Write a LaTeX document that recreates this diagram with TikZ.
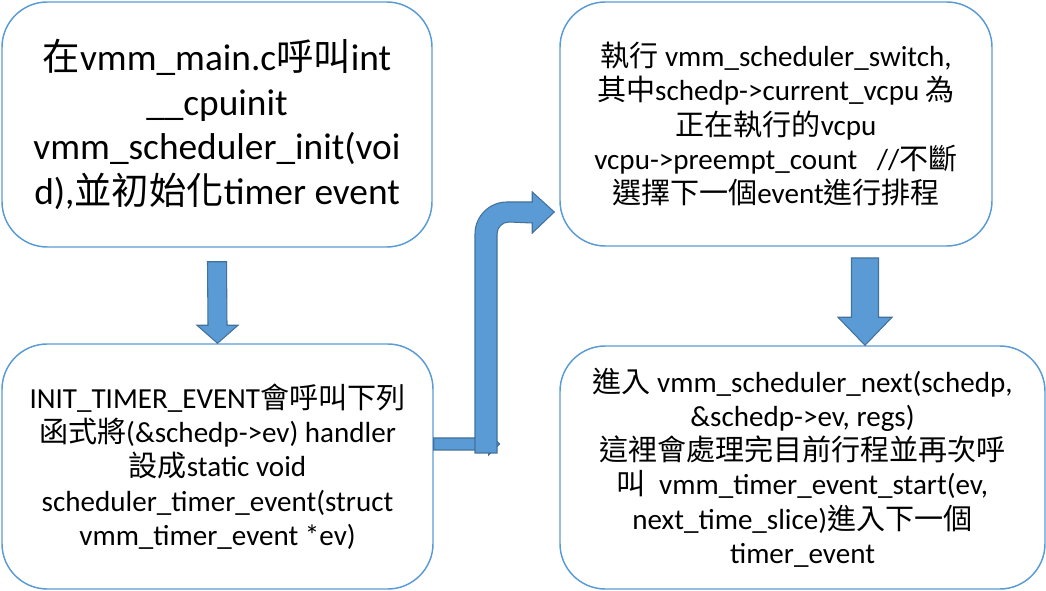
\documentclass[tikz,border=0pt]{standalone}
\usepackage{fontspec}
\setmainfont{Carlito}
\newfontfamily\cjk{Noto Sans CJK TC}
\usepackage{tikz}
\usetikzlibrary{calc}
\definecolor{boxblue}{HTML}{5B9BD5}
\definecolor{edgeblue}{HTML}{41719C}
\newcommand{\zh}[1]{{\cjk #1}}

\begin{document}
\begin{tikzpicture}
	[x=0.75pt, y=-0.75pt,
	 box/.style={draw=boxblue, line width=1.1pt, rounded corners=34pt, align=center, inner sep=0pt},
	 bigtext/.style={font=\fontsize{28}{33.5}\selectfont},
	 smalltext/.style={font=\fontsize{21.8}{25.7}\selectfont},
	 blockarrow/.style={fill=boxblue, draw=edgeblue, line width=0.8pt, line join=miter}]
   \useasboundingbox (0,0) rectangle (1046,591);
   % the four steps
   \node[box, bigtext, minimum width=322.5pt, minimum height=183.75pt] (init) at (217,124.5)
      {\zh{在}vmm\_main.c\zh{呼叫}int\\ \_\_cpuinit\\ vmm\_scheduler\_init(voi\\ d),\zh{並初始化}timer event};
   \node[box, smalltext, minimum width=323.25pt, minimum height=183.75pt] (timer) at (217.5,466.5)
      {INIT\_TIMER\_EVENT\zh{會呼叫下列}\\ \zh{函式將}(\&schedp->ev) handler\\ \zh{設成}static void\\
       scheduler\_timer\_event(struct\\ vmm\_timer\_event *ev)};
   \node[box, smalltext, minimum width=324pt, minimum height=183pt] (switch) at (776,124)
      {\zh{執行} vmm\_scheduler\_switch,\\ \zh{其中}schedp->current\_vcpu \zh{為}\\ \zh{正在執行的}vcpu\\
       vcpu->preempt\_count \ \ //\zh{不斷}\\ \zh{選擇下一個}event\zh{進行排程}};
   \node[box, smalltext, minimum width=363.75pt, minimum height=182.25pt] (next) at (802.5,467.5)
      {\zh{進入} vmm\_scheduler\_next(schedp,\\ \&schedp->ev, regs)\\ \zh{這裡會處理完目前行程並再次呼}\\
       \zh{叫} \ vmm\_timer\_event\_start(ev,\\ next\_time\_slice)\zh{進入下一個}\\ timer\_event};
   % block arrows
   \draw[blockarrow] ($(init.south)+(-9.5,14)$) -- ++(19,0) -- ($(timer.north)+(9.5,-18)$) -- ++(11,0)
      -- (timer.north) -- ++(-20.5,-18) -- ++(11,0) -- cycle;
   \coordinate (a2) at (865,258);
   \coordinate (tip2) at (a2 |- next.north);
   \draw[blockarrow] ($(a2)+(-13.5,0)$) -- ++(27,0) -- ($(tip2)+(13.5,-28)$) -- ++(13.5,0)
      -- (tip2) -- ++(-27,-28) -- ++(13.5,0) -- cycle;
   \coordinate (h0) at ($(timer.east)+(0,-22.5)$);
   \draw[blockarrow] ($(h0)+(0,-6)$) -- ++(55,0) -- ++(0,-5) -- ($(h0)+(66,0)$) -- ++(-11,11)
      -- ++(0,-5) -- ($(h0)+(0,6)$) -- cycle;
   \coordinate (tip3) at ($(switch.west)+(-5,88)$);
   \draw[blockarrow] (475,453) -- (475,234) to[out=90,in=180] (507,202) -- ($(tip3)+(-22,-10)$)
      -- ++(0,-10) -- (tip3) -- ++(-22,21) -- ++(0,-10) -- (509,222) to[out=180,in=90] (497,234)
      -- (497,453) -- cycle;
\end{tikzpicture}
\end{document}
